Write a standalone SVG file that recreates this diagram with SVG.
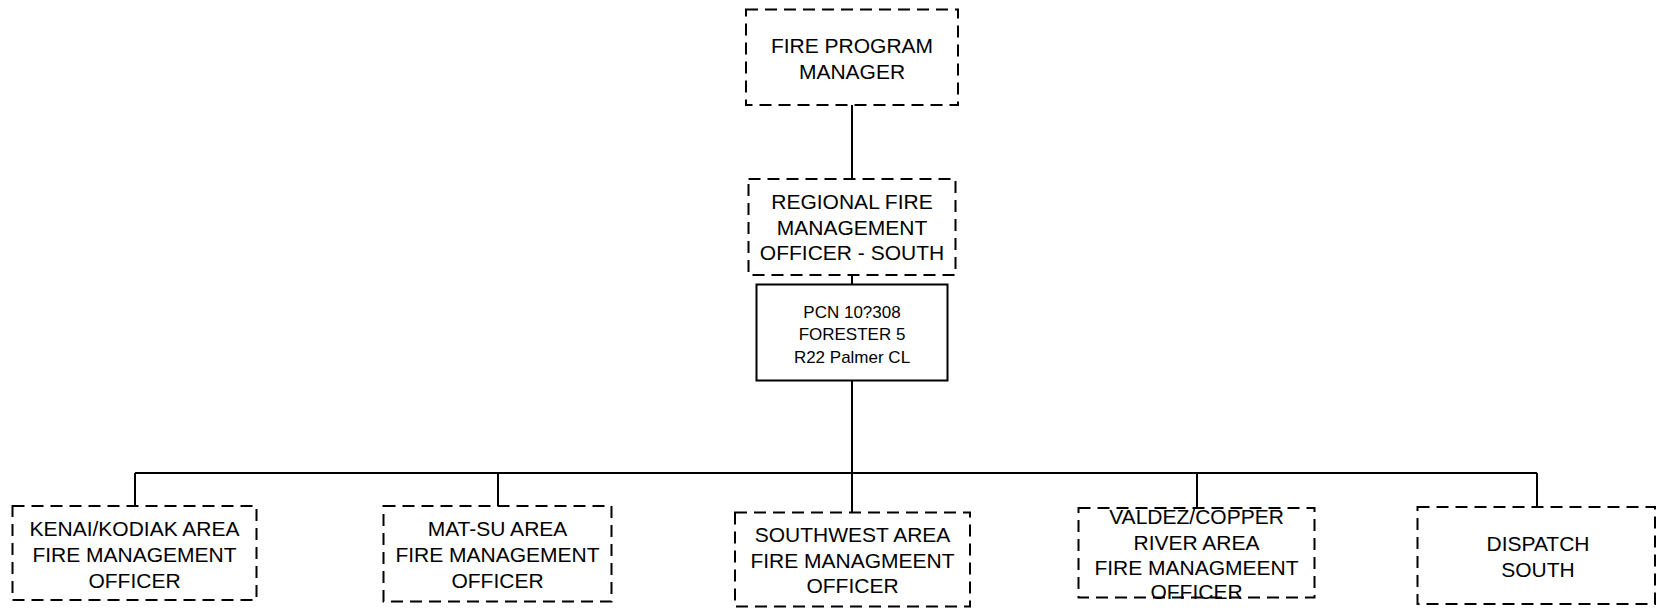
<svg xmlns="http://www.w3.org/2000/svg" width="1657" height="608" viewBox="0 0 1657 608">
<style>
.dash{fill:none;stroke:#000;stroke-width:2;stroke-dasharray:12 7}
.solid{fill:none;stroke:#000;stroke-width:2}
.t{font-family:"Liberation Sans",Arial,sans-serif;font-size:21px;fill:#000;text-anchor:middle}
.s{font-family:"Liberation Sans",Arial,sans-serif;font-size:17px;fill:#000;text-anchor:middle}
.c{fill:none;stroke:#000;stroke-width:2}
</style>
<rect width="1657" height="608" fill="#fff"/>
<g id="connectors">
<line class="c" x1="852" y1="105" x2="852" y2="179"/>
<line class="c" x1="852" y1="275" x2="852" y2="284"/>
<line class="c" x1="852" y1="380" x2="852" y2="512"/>
<line class="c" x1="135" y1="473" x2="1537" y2="473"/>
<line class="c" x1="135" y1="473" x2="135" y2="506"/>
<line class="c" x1="498" y1="473" x2="498" y2="506"/>
<line class="c" x1="1197" y1="473" x2="1197" y2="508"/>
<line class="c" x1="1537" y1="473" x2="1537" y2="507"/>
</g>
<g id="fire-program-manager">
<rect class="dash" x="746" y="9.5" width="212" height="95.5"/>
<text class="t" x="852" y="53">FIRE PROGRAM</text>
<text class="t" x="852" y="79">MANAGER</text>
</g>
<g id="regional-fmo-south">
<rect class="dash" x="748.5" y="179" width="207" height="96"/>
<text class="t" x="852" y="209">REGIONAL FIRE</text>
<text class="t" x="852" y="234.5">MANAGEMENT</text>
<text class="t" x="852" y="260">OFFICER - SOUTH</text>
</g>
<g id="pcn">
<rect class="solid" x="756.5" y="284.5" width="191" height="96"/>
<text class="s" x="852" y="317.5">PCN 10?308</text>
<text class="s" x="852" y="340">FORESTER 5</text>
<text class="s" x="852" y="362.5">R22 Palmer CL</text>
</g>
<g id="kenai-kodiak">
<rect class="dash" x="12.5" y="506" width="244" height="94"/>
<text class="t" x="134.5" y="536">KENAI/KODIAK AREA</text>
<text class="t" x="134.5" y="562">FIRE MANAGEMENT</text>
<text class="t" x="134.5" y="588">OFFICER</text>
</g>
<g id="mat-su">
<rect class="dash" x="383.5" y="506" width="228" height="95.5"/>
<text class="t" x="497.5" y="536">MAT-SU AREA</text>
<text class="t" x="497.5" y="562">FIRE MANAGEMENT</text>
<text class="t" x="497.5" y="588">OFFICER</text>
</g>
<g id="southwest">
<rect class="dash" x="735" y="512.5" width="235" height="94"/>
<text class="t" x="852.5" y="542">SOUTHWEST AREA</text>
<text class="t" x="852.5" y="567.5">FIRE MANAGMEENT</text>
<text class="t" x="852.5" y="593">OFFICER</text>
</g>
<g id="valdez-copper">
<rect class="dash" x="1078.5" y="508" width="236" height="89.5"/>
<text class="t" x="1196.5" y="523.5">VALDEZ/COPPER</text>
<text class="t" x="1196.5" y="550">RIVER AREA</text>
<text class="t" x="1196.5" y="575">FIRE MANAGMEENT</text>
<text class="t" x="1196.5" y="598.5">OFFICER</text>
</g>
<g id="dispatch-south">
<rect class="dash" x="1417.5" y="507" width="237.5" height="97"/>
<text class="t" x="1538" y="551">DISPATCH</text>
<text class="t" x="1538" y="577">SOUTH</text>
</g>
</svg>
